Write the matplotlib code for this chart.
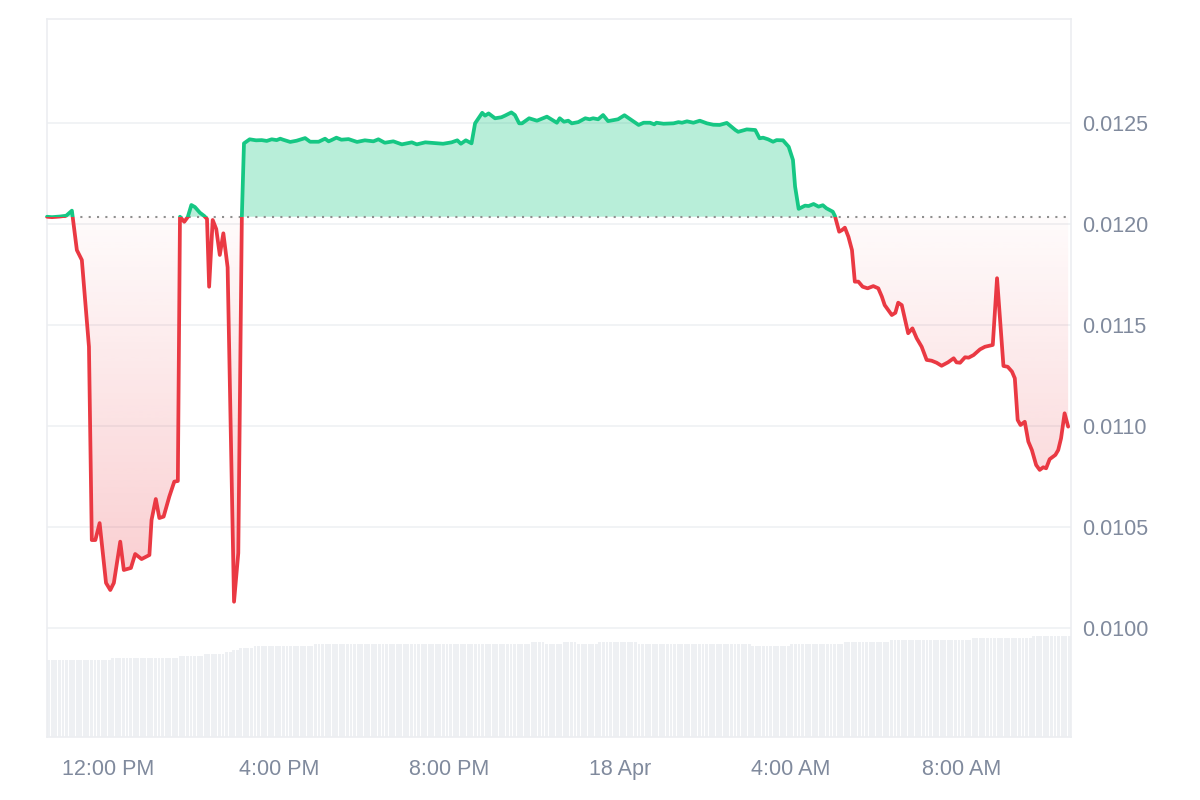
from datetime import datetime, timedelta

import matplotlib
matplotlib.use('Agg')
import matplotlib.dates as mdates
import matplotlib.pyplot as plt
import numpy as np
from matplotlib.patches import Rectangle
from matplotlib.path import Path
from matplotlib.ticker import FuncFormatter

GREEN = '#16c784'
RED = '#ea3943'
LABEL = '#808a9d'
GRID = '#eff1f3'

start = datetime(2025, 4, 17, 10, 34)

# price line: minutes after start, price
minutes = [
    0, 7, 18, 27, 35, 42, 49, 59, 63, 68, 74, 83, 89, 94, 103, 108, 118, 124, 133, 144,
    147, 153, 158, 164, 172, 179, 184, 187, 193, 198, 203, 208, 215, 221, 225, 228, 233,
    238, 243, 248, 254, 263, 269, 274,
    277, 285, 294, 302, 309, 316, 323, 328, 332, 342, 351, 363, 370, 382, 391, 396, 400,
    407, 414, 424, 436, 447, 459, 466, 475, 487, 499, 513, 520, 532, 557, 569, 577, 582,
    589, 597, 602, 612, 616, 621, 630, 639, 644, 653, 658, 664, 668, 678, 689, 703, 717,
    721, 727, 733, 738, 747, 757, 763, 768, 775, 782, 789, 803, 812, 820, 832, 839, 848,
    854, 857, 867, 881, 888, 893, 900, 909, 918, 928, 937, 946, 956, 968, 972, 984, 996,
    1002, 1007, 1014, 1021, 1026, 1035, 1043, 1049, 1052, 1057, 1066, 1071, 1078, 1085,
    1091, 1096, 1105, 1108, 1114, 1118, 1122, 1127, 1132, 1136, 1141, 1147, 1154, 1162,
    1169, 1174, 1178, 1188, 1193, 1197, 1202, 1211, 1217, 1223, 1230, 1237, 1244, 1251,
    1258, 1267, 1275, 1279, 1284, 1291, 1296, 1303, 1312, 1319, 1330, 1336, 1345, 1351,
    1357, 1361, 1365, 1369, 1375, 1380, 1385, 1391, 1396, 1401, 1405, 1410, 1418, 1422,
    1426, 1431, 1436,
]
prices = [
    0.012035, 0.012033, 0.012036, 0.012040, 0.012065, 0.011870, 0.011821, 0.011392,
    0.010436, 0.010436, 0.010520, 0.010224, 0.010189, 0.010224, 0.010428, 0.010288,
    0.010298, 0.010367, 0.010342, 0.010362, 0.010535, 0.010639, 0.010545, 0.010552,
    0.010651, 0.010725, 0.010728, 0.012035, 0.012010, 0.012034, 0.012093, 0.012083,
    0.012055, 0.012039, 0.012024, 0.011689, 0.012019, 0.011974, 0.011846, 0.011953,
    0.011785, 0.010131, 0.010372, 0.012035,
    0.012398, 0.012418, 0.012413, 0.012414, 0.012410, 0.012418, 0.012414, 0.012421,
    0.012416, 0.012405, 0.012411, 0.012424, 0.012406, 0.012406, 0.012421, 0.012408,
    0.012414, 0.012426, 0.012416, 0.012419, 0.012405, 0.012413, 0.012408, 0.012418,
    0.012401, 0.012408, 0.012393, 0.012403, 0.012393, 0.012403, 0.012396, 0.012403,
    0.012413, 0.012396, 0.012413, 0.012398, 0.012497, 0.012549, 0.012535, 0.012546,
    0.012522, 0.012527, 0.012535, 0.012551, 0.012538, 0.012497, 0.012497, 0.012522,
    0.012510, 0.012530, 0.012500, 0.012522, 0.012505, 0.012510, 0.012497, 0.012503,
    0.012522, 0.012517, 0.012522, 0.012517, 0.012538, 0.012508, 0.012517, 0.012537,
    0.012518, 0.012489, 0.012500, 0.012500, 0.012492, 0.012500, 0.012495, 0.012497,
    0.012503, 0.012500, 0.012507, 0.012500, 0.012510, 0.012497, 0.012490, 0.012489,
    0.012499, 0.012464, 0.012455, 0.012467, 0.012464, 0.012423, 0.012426, 0.012418,
    0.012406, 0.012414, 0.012413, 0.012381, 0.012316, 0.012184, 0.012074, 0.012090,
    0.012088, 0.012098, 0.012085, 0.012092, 0.012077, 0.012060, 0.012039, 0.011961,
    0.011969, 0.011981, 0.011936, 0.011870, 0.011714, 0.011714, 0.011689, 0.011681,
    0.011692, 0.011681, 0.011640, 0.011598, 0.011549, 0.011560, 0.011610, 0.011598,
    0.011459, 0.011483, 0.011434, 0.011392, 0.011327, 0.011323, 0.011313, 0.011298,
    0.011315, 0.011335, 0.011315, 0.011313, 0.011340, 0.011338, 0.011351, 0.011379,
    0.011392, 0.011401, 0.011731, 0.011297, 0.011293, 0.011269, 0.011236, 0.011030,
    0.011005, 0.011021, 0.010923, 0.010881, 0.010807, 0.010783, 0.010796, 0.010791,
    0.010836, 0.010857, 0.010881, 0.010939, 0.011063, 0.010997,
]

# 5 minute volume bars, as runs of (level, number of bars)
vol_levels = [7.7, 7.9, 8.1, 8.3, 8.5, 8.7, 8.9, 9.1, 9.3, 9.5, 9.3, 9.5, 9.3, 9.5,
              9.3, 9.1, 9.3, 9.5, 9.7, 9.9, 10.1]
vol_counts = [18, 19, 7, 6, 2, 2, 4, 17, 61, 4, 5, 4, 6, 11,
              32, 11, 15, 13, 23, 17, 11]

price_ticks = [0.0100, 0.0105, 0.0110, 0.0115, 0.0120, 0.0125]

plt.rcParams['font.family'] = ['Liberation Sans', 'DejaVu Sans']

fig = plt.figure(figsize=(12, 8), dpi=100)
ax = fig.add_axes([47 / 1200, 63 / 800, 1024 / 1200, 718 / 800])
ax_vol = ax.twinx()

t = mdates.date2num([start + timedelta(minutes=m) for m in minutes])
p = np.array(prices)
baseline = prices[0]
t0 = mdates.date2num(start)
t1 = mdates.date2num(start + timedelta(hours=24))

# volume underneath
vol = np.repeat(vol_levels, vol_counts)
bar_t = mdates.date2num([start + timedelta(minutes=5 * i + 2.5) for i in range(len(vol))])
ax_vol.bar(bar_t, vol, width=5 / 1440 * 0.82, color='#eef0f3', linewidth=0)
ax_vol.set_ylim(0, 71.8)
ax_vol.set_yticks([])
ax_vol.set_zorder(0)
ax.set_zorder(1)
ax.patch.set_visible(False)
for s in ax_vol.spines.values():
    s.set_visible(False)

# green area above the open price
ax.fill_between(t, p, baseline, where=p >= baseline, interpolate=True,
                color=GREEN, alpha=0.3, linewidth=0)

# red area below, fading towards the open price
red = ax.fill_between(t, p, baseline, where=p <= baseline, interpolate=True,
                      facecolor='none', linewidth=0)
clip = Path.make_compound_path(*red.get_paths())
grad = np.zeros((256, 1, 4))
grad[:, 0, :3] = matplotlib.colors.to_rgb(RED)
grad[:, 0, 3] = np.linspace(0.26, 0.02, 256)
im = ax.imshow(grad, extent=[t0, t1, p.min(), baseline], origin='lower',
               aspect='auto', interpolation='bilinear', zorder=1)
im.set_clip_path(clip, ax.transData)
ax.set_ylim(0.009462, 0.013013)
ax.set_xlim(t0, t1)

ax.hlines(baseline, t[0], t[-1], colors='#8f8f8f', linestyles=(0, (1, 3)),
          linewidth=1.5, zorder=2)

line_g, = ax.plot(t, p, color=GREEN, linewidth=2.7, zorder=3, solid_capstyle='round')
line_g.set_clip_path(Rectangle((t0 - 1, baseline), 3, 1, transform=ax.transData))
line_r, = ax.plot(t, p, color=RED, linewidth=2.7, zorder=3, solid_capstyle='round')
line_r.set_clip_path(Rectangle((t0 - 1, baseline - 1), 3, 1, transform=ax.transData))

# axes styling
ax.yaxis.tick_right()
ax.set_yticks(price_ticks)
ax.yaxis.set_major_formatter(FuncFormatter(lambda v, _: '%.4f' % v))
ax.grid(axis='y', color=GRID, linewidth=1.2)
ax.set_axisbelow(True)


def time_label(v, _):
    d = mdates.num2date(v)
    if d.hour == 0 and d.minute == 0:
        return d.strftime('%d Apr').lstrip('0')
    return d.strftime('%I:%M %p').lstrip('0')


ax.xaxis.set_major_locator(mdates.HourLocator(byhour=[0, 4, 8, 12, 16, 20]))
ax.xaxis.set_major_formatter(FuncFormatter(time_label))
ax.tick_params(axis='both', length=0, labelsize=15.5, labelcolor=LABEL)
ax.tick_params(axis='x', pad=16)
ax.tick_params(axis='y', pad=8)
for s in ax.spines.values():
    s.set_color('#eceef1')
    s.set_linewidth(1.2)

fig.savefig('out.png', dpi=100, facecolor='white')
